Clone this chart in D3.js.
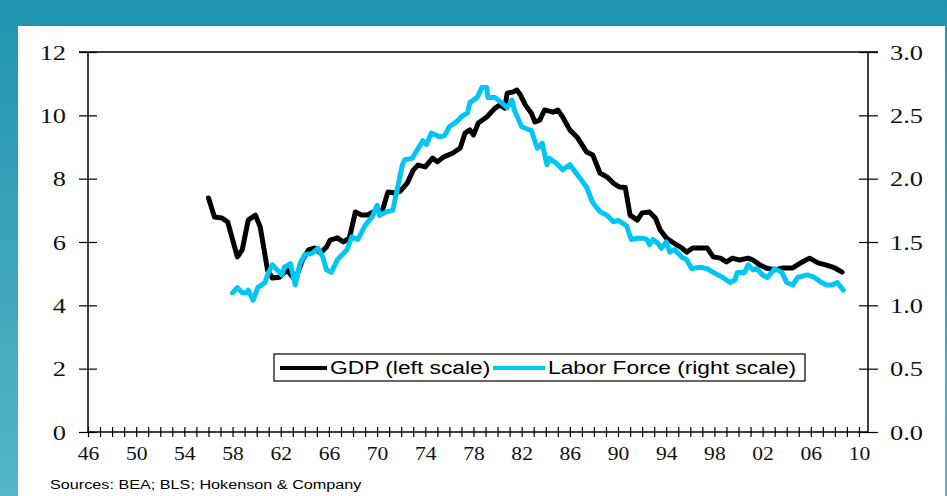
<!DOCTYPE html>
<html>
  <head>
    <meta http-equiv="content-type" content="text/html; charset=utf-8" />
    <title>GDP vs Labor Force</title>
    <script type="text/javascript" src="https://cdn.jsdelivr.net/npm/d3@7"></script>
  </head>
  <body style="margin:0">
    <script type="text/javascript">
// growth rates (GDP on left scale, labor force on right scale)
var gdpYears = [1956.0,1956.5,1957.1,1957.6,1958.4,1958.8,1959.3,1959.9,1960.3,1960.9,1961.3,1961.9,1962.5,1963.2,1963.8,1964.3,1964.8,1965.3,1965.8,1966.1,1966.7,1967.2,1967.7,1968.2,1968.7,1969.2,1970.0,1970.4,1970.9,1971.5,1971.9,1972.5,1973.0,1973.4,1974.0,1974.6,1975.0,1975.5,1976.3,1976.9,1977.3,1977.7,1978.0,1978.4,1979.1,1979.8,1980.2,1980.6,1980.8,1981.3,1981.6,1981.9,1982.3,1982.8,1983.1,1983.5,1983.9,1984.6,1985.0,1985.4,1986.0,1986.6,1987.4,1987.9,1988.5,1989.1,1989.6,1990.1,1990.6,1991.0,1991.6,1992.0,1992.6,1993.1,1993.5,1994.0,1994.5,1995.3,1995.7,1996.2,1997.4,1997.9,1998.5,1999.0,1999.5,2000.1,2000.8,2001.2,2001.8,2002.3,2003.0,2003.7,2004.5,2005.3,2005.9,2006.6,2007.3,2008.0,2008.6];
var gdpValues = [7.39,6.79,6.76,6.63,5.53,5.75,6.69,6.85,6.47,5.12,4.86,4.89,5.12,4.80,5.43,5.75,5.81,5.65,5.84,6.06,6.13,6.00,6.13,6.95,6.85,6.85,7.01,6.95,7.58,7.55,7.60,7.86,8.27,8.43,8.37,8.65,8.53,8.68,8.81,8.97,9.44,9.54,9.38,9.76,9.95,10.23,10.33,10.23,10.70,10.74,10.80,10.64,10.33,10.07,9.79,9.85,10.17,10.10,10.17,9.95,9.54,9.31,8.84,8.75,8.18,8.05,7.86,7.74,7.72,6.85,6.69,6.92,6.95,6.76,6.38,6.13,6.00,5.81,5.68,5.81,5.81,5.53,5.49,5.37,5.49,5.43,5.49,5.43,5.27,5.18,5.12,5.18,5.18,5.37,5.49,5.34,5.27,5.18,5.05];

var laborYears = [1958.0,1958.4,1958.8,1959.2,1959.3,1959.7,1960.1,1960.7,1960.9,1961.3,1961.7,1962.1,1962.3,1962.8,1963.2,1963.6,1964.0,1964.6,1965.1,1965.5,1965.8,1966.2,1966.7,1967.1,1967.5,1967.9,1968.4,1969.0,1969.6,1970.0,1970.2,1970.8,1971.3,1971.7,1972.1,1972.3,1972.9,1973.1,1973.8,1974.1,1974.5,1975.2,1975.6,1976.0,1976.6,1977.0,1977.5,1977.7,1978.3,1978.7,1979.1,1979.2,1979.8,1980.2,1980.8,1981.2,1981.4,1982.0,1982.8,1983.3,1983.7,1984.1,1984.3,1984.9,1985.4,1986.0,1986.8,1987.4,1987.9,1988.5,1989.1,1989.6,1990.0,1990.7,1991.1,1991.6,1992.0,1992.4,1992.6,1992.9,1993.3,1993.6,1994.0,1994.3,1994.7,1995.3,1995.7,1996.1,1996.8,1997.4,1997.9,1998.7,1999.3,1999.7,1999.9,2000.5,2000.8,2001.2,2001.5,2002.0,2002.4,2003.0,2003.6,2004.0,2004.5,2004.9,2005.7,2006.3,2006.9,2007.3,2007.8,2008.2,2008.7];
var laborValues = [1.10,1.14,1.10,1.10,1.12,1.04,1.14,1.18,1.24,1.32,1.28,1.24,1.30,1.33,1.16,1.33,1.40,1.41,1.45,1.38,1.28,1.26,1.36,1.40,1.44,1.54,1.52,1.63,1.70,1.79,1.71,1.74,1.75,1.93,2.11,2.15,2.16,2.19,2.30,2.27,2.36,2.33,2.34,2.41,2.45,2.49,2.52,2.60,2.64,2.72,2.72,2.64,2.64,2.61,2.56,2.62,2.54,2.41,2.38,2.24,2.28,2.11,2.16,2.12,2.07,2.11,2.01,1.93,1.81,1.74,1.71,1.66,1.67,1.63,1.52,1.53,1.53,1.52,1.48,1.52,1.49,1.45,1.50,1.42,1.44,1.38,1.36,1.29,1.30,1.29,1.26,1.22,1.18,1.20,1.26,1.26,1.32,1.28,1.29,1.24,1.22,1.29,1.26,1.18,1.16,1.22,1.24,1.22,1.18,1.16,1.16,1.18,1.12];

var leftTicks = [0, 2, 4, 6, 8, 10, 12];
var rightTicks = [0, 0.5, 1.0, 1.5, 2.0, 2.5, 3.0];
var yearTicks = d3.range(1946, 2011);        // minor tick every year
var labelYears = d3.range(1946, 2011, 4);    // 46, 50, ... 10

// note: "top" is taken by window.top, so plot edges get their own names
var W = 947, H = 496,
    plotL = 88, plotR = 868, plotT = 52, plotB = 432,
    stretch = 1.2;   // the original text looks horizontally stretched

var svg = d3.select('body').append('svg')
  .attr('width', W).attr('height', H)
  .style('display', 'block');

// teal backdrop with a white card on it
var grad = svg.append('defs').append('linearGradient')
  .attr('id', 'bg').attr('x1', 0).attr('y1', 0).attr('x2', 0).attr('y2', 1);
grad.append('stop').attr('offset', '0%').attr('stop-color', '#1f94ae');
grad.append('stop').attr('offset', '100%').attr('stop-color', '#55b6c9');

svg.append('rect').attr('width', W).attr('height', H).attr('fill', 'url(#bg)');
svg.append('rect').attr('x', 18).attr('y', 26).attr('width', 927).attr('height', H - 26).attr('fill', '#fff');

var x = d3.scaleLinear().domain([1946, 2010.75]).range([plotL, plotR]);
var yL = d3.scaleLinear().domain([0, 12]).range([plotB, plotT]);
var yR = d3.scaleLinear().domain([0, 3]).range([plotB, plotT]);

// top frame line
svg.append('line')
  .attr('x1', plotL - 9).attr('x2', plotR + 10)
  .attr('y1', yL(12)).attr('y2', yL(12))
  .attr('stroke', '#000').attr('stroke-width', 1.3);

// left axis
var gL = svg.append('g')
  .attr('transform', 'translate(' + plotL + ',0)')
  .call(d3.axisLeft(yL).tickValues(leftTicks).tickSize(9).tickPadding(0));
gL.selectAll('.tick line').attr('x1', 9).attr('x2', -9);
gL.selectAll('.tick text')
  .attr('x', -22 / stretch)
  .attr('transform', 'scale(' + stretch + ',1)')
  .style('font-family', '"Liberation Serif", "Times New Roman", serif')
  .style('font-size', '22px').attr('fill', '#111');

// right axis
var gR = svg.append('g')
  .attr('transform', 'translate(' + plotR + ',0)')
  .call(d3.axisRight(yR).tickValues(rightTicks).tickFormat(d3.format('.1f')).tickSize(9));
gR.selectAll('.tick line').attr('x1', -9).attr('x2', 10);
gR.selectAll('.tick text')
  .attr('x', 22 / stretch)
  .attr('transform', 'scale(' + stretch + ',1)')
  .style('font-family', '"Liberation Serif", "Times New Roman", serif')
  .style('font-size', '22px').attr('fill', '#111');

// bottom axis, tick every year, label every 4th
var gB = svg.append('g')
  .attr('transform', 'translate(0,' + plotB + ')')
  .call(d3.axisBottom(x).tickValues(yearTicks).tickSize(5)
    .tickFormat(function(d) { return labelYears.indexOf(d) >= 0 ? d3.format('02d')(d % 100) : ''; }));
gB.selectAll('.tick line').attr('y1', -5).attr('y2', 5);
gB.selectAll('.tick text')
  .attr('y', 28).attr('dy', 0)
  .attr('transform', 'scale(' + stretch + ',1)')
  .style('font-family', '"Liberation Serif", "Times New Roman", serif')
  .style('font-size', '18px').attr('fill', '#111');

[gL, gR, gB].forEach(function(g) {
  g.select('.domain').attr('stroke', '#000').attr('stroke-width', 1.5);
  g.selectAll('.tick line').attr('stroke', '#000').attr('stroke-width', 1.2);
});
gB.select('.domain').attr('d', 'M' + plotL + ',0H' + plotR);
gL.select('.domain').attr('d', 'M0,' + plotB + 'V' + plotT);
gR.select('.domain').attr('d', 'M0,' + plotB + 'V' + plotT);

// series
var gdp = d3.zip(gdpYears, gdpValues);
var labor = d3.zip(laborYears, laborValues);

svg.append('path')
  .datum(gdp)
  .attr('fill', 'none').attr('stroke', '#000').attr('stroke-width', 5)
  .attr('stroke-linejoin', 'round').attr('stroke-linecap', 'round')
  .attr('d', d3.line().x(function(d) { return x(d[0]); }).y(function(d) { return yL(d[1]); }));

svg.append('path')
  .datum(labor)
  .attr('fill', 'none').attr('stroke', '#00c6f5').attr('stroke-width', 5)
  .attr('stroke-linejoin', 'round').attr('stroke-linecap', 'round')
  .attr('d', d3.line().x(function(d) { return x(d[0]); }).y(function(d) { return yR(d[1]); }));

// legend
var legend = svg.append('g').attr('transform', 'translate(274,354)');
legend.append('rect')
  .attr('width', 531).attr('height', 27)
  .attr('fill', '#fff').attr('stroke', '#000').attr('stroke-width', 1.2);

var items = [
  { label: 'GDP (left scale)', color: '#000', x0: 6, x1: 53, tx: 56 },
  { label: 'Labor Force (right scale)', color: '#00c6f5', x0: 219, x1: 271, tx: 274 }
];
var item = legend.selectAll('g.item').data(items).enter().append('g').attr('class', 'item');
item.append('line')
  .attr('x1', function(d) { return d.x0; }).attr('x2', function(d) { return d.x1; })
  .attr('y1', 14).attr('y2', 14)
  .attr('stroke', function(d) { return d.color; }).attr('stroke-width', 4);
item.append('text')
  .attr('x', function(d) { return d.tx / stretch; }).attr('y', 20.5)
  .attr('transform', 'scale(' + stretch + ',1)')
  .style('font-family', '"Liberation Sans", Arial, sans-serif')
  .style('font-size', '19px').attr('fill', '#000')
  .text(function(d) { return d.label; });

// source note
svg.append('text')
  .attr('x', 50 / stretch).attr('y', 489)
  .attr('transform', 'scale(' + stretch + ',1)')
  .style('font-family', '"Liberation Sans", Arial, sans-serif')
  .style('font-size', '13.5px').attr('fill', '#000')
  .text('Sources: BEA; BLS; Hokenson & Company');
    </script>
  </body>
</html>
